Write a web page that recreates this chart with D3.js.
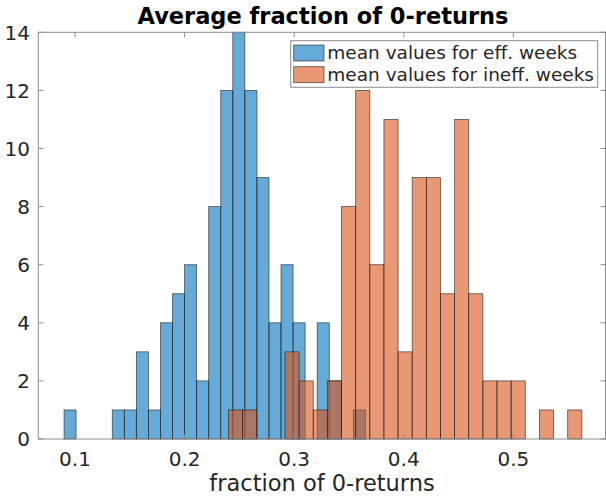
<!DOCTYPE html>
<html>
<head>
<meta charset="utf-8">
<script src="https://cdn.jsdelivr.net/npm/d3@7"></script>
<style>
  body { margin: 0; background: #fff; }
  text { font-family: "DejaVu Sans", sans-serif; fill: #262626; }
</style>
</head>
<body>
<div id="chart"></div>
<script>
// bin edges and counts
const effEdges = [0.090, 0.101, 0.112, 0.123, 0.134, 0.145, 0.156, 0.167, 0.178, 0.189,
                  0.200, 0.211, 0.222, 0.233, 0.244, 0.255, 0.266, 0.277, 0.288, 0.299,
                  0.310, 0.321, 0.332, 0.343, 0.354, 0.365];
const effCounts = [1, 0, 0, 0, 1, 1, 3, 1, 4, 5, 6, 2, 8, 12, 14, 12, 9, 4, 6, 4, 0, 4, 2, 0, 1];

const ineffEdges = [0.2400, 0.2529, 0.2658, 0.2787, 0.2916, 0.3045, 0.3174, 0.3303, 0.3432,
                    0.3561, 0.3690, 0.3819, 0.3948, 0.4077, 0.4206, 0.4335, 0.4464, 0.4593,
                    0.4722, 0.4851, 0.4980, 0.5109, 0.5238, 0.5367, 0.5496, 0.5625];
const ineffCounts = [1, 1, 0, 0, 3, 2, 1, 2, 8, 12, 6, 11, 3, 9, 9, 5, 11, 5, 2, 2, 2, 0, 1, 0, 1];

const xTicks = [0.1, 0.2, 0.3, 0.4, 0.5];
const yTicks = [0, 2, 4, 6, 8, 10, 12, 14];
const seriesNames = ["mean values for eff. weeks", "mean values for ineff. weeks"];

const W = 606, H = 500;
const plot = {left: 38.3, right: 605.5, top: 32.3, bottom: 439};

const svg = d3.select("#chart").append("svg")
    .attr("width", W)
    .attr("height", H);

const x = d3.scaleLinear().domain([0.0665, 0.5841]).range([plot.left, plot.right]);
const y = d3.scaleLinear().domain([0, 14]).range([plot.bottom, plot.top]);

const colors = ["#0072bd", "#d95319"];

function binData(edges, counts) {
    return counts.map((c, i) => ({x0: edges[i], x1: edges[i + 1], n: c}))
        .filter(d => d.n > 0);
}

const series = [binData(effEdges, effCounts), binData(ineffEdges, ineffCounts)];

series.forEach((bins, s) => {
    svg.append("g")
        .selectAll("rect")
        .data(bins)
        .enter()
        .append("rect")
        .attr("x", d => x(d.x0))
        .attr("y", d => y(d.n))
        .attr("width", d => x(d.x1) - x(d.x0))
        .attr("height", d => y(0) - y(d.n))
        .attr("fill", colors[s])
        .attr("fill-opacity", 0.6)
        .attr("stroke", "#1a1a1a")
        .attr("stroke-opacity", 0.7)
        .attr("stroke-width", 0.8);
});

// box
svg.append("rect")
    .attr("x", plot.left).attr("y", plot.top)
    .attr("width", plot.right - plot.left).attr("height", plot.bottom - plot.top)
    .attr("fill", "none")
    .attr("stroke", "#8c8c8c")
    .attr("stroke-width", 1);

// inward ticks on all four sides
const tickLen = 5;
const tk = svg.append("g").attr("stroke", "#8c8c8c").attr("stroke-width", 1);
xTicks.forEach(t => {
    tk.append("line").attr("x1", x(t)).attr("x2", x(t)).attr("y1", plot.bottom).attr("y2", plot.bottom - tickLen);
    tk.append("line").attr("x1", x(t)).attr("x2", x(t)).attr("y1", plot.top).attr("y2", plot.top + tickLen);
});
yTicks.forEach(t => {
    tk.append("line").attr("x1", plot.left).attr("x2", plot.left + tickLen).attr("y1", y(t)).attr("y2", y(t));
    tk.append("line").attr("x1", plot.right).attr("x2", plot.right - tickLen).attr("y1", y(t)).attr("y2", y(t));
});

// tick labels
svg.append("g").selectAll("text")
    .data(xTicks)
    .enter()
    .append("text")
    .attr("x", d => x(d))
    .attr("y", 465.5)
    .attr("text-anchor", "middle")
    .style("font-size", "20px")
    .text(d => d3.format(".1f")(d));

svg.append("g").selectAll("text")
    .data(yTicks)
    .enter()
    .append("text")
    .attr("x", 30)
    .attr("y", d => y(d) + 7.3)
    .attr("text-anchor", "end")
    .style("font-size", "20px")
    .text(d => d);

// axis label + title
svg.append("text")
    .attr("x", 322)
    .attr("y", 491)
    .attr("text-anchor", "middle")
    .style("font-size", "22.5px")
    .text("fraction of 0-returns");

svg.append("text")
    .attr("x", 323)
    .attr("y", 24)
    .attr("text-anchor", "middle")
    .style("font-size", "22.5px")
    .style("font-weight", "bold")
    .style("fill", "#000")
    .text("Average fraction of 0-returns");

// legend
const lg = svg.append("g").attr("transform", "translate(290.7,40.7)");
lg.append("rect")
    .attr("width", 307).attr("height", 46.6)
    .attr("fill", "#fff")
    .attr("stroke", "#8c8c8c")
    .attr("stroke-width", 1);

seriesNames.forEach((name, i) => {
    lg.append("rect")
        .attr("x", 3).attr("y", 4.3 + i * 21.7)
        .attr("width", 30.3).attr("height", 16)
        .attr("fill", colors[i])
        .attr("fill-opacity", 0.6)
        .attr("stroke", "#1a1a1a")
        .attr("stroke-opacity", 0.7)
        .attr("stroke-width", 0.8);
    lg.append("text")
        .attr("x", 36.6)
        .attr("y", 18 + i * 22.3)
        .style("font-size", "18.5px")
        .text(name);
});
</script>
</body>
</html>
